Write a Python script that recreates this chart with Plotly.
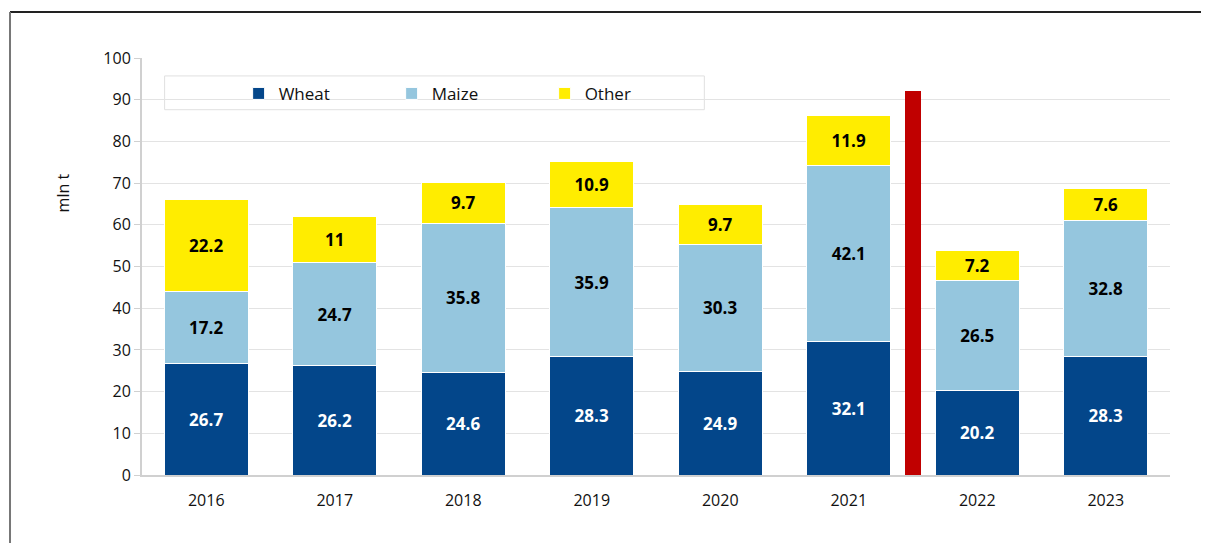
import plotly.graph_objects as go

years = ["2016", "2017", "2018", "2019", "2020", "2021", "2022", "2023"]
wheat = [26.7, 26.2, 24.6, 28.3, 24.9, 32.1, 20.2, 28.3]
maize = [17.2, 24.7, 35.8, 35.9, 30.3, 42.1, 26.5, 32.8]
other = [22.2, 11, 9.7, 10.9, 9.7, 11.9, 7.2, 7.6]
separator_pos = [5.5]
separator_val = [92]

xpos = list(range(len(years)))

def fmt(v):
    return f"{v:g}"

label_font = dict(size=17, family="Open Sans", weight="bold")

fig = go.Figure()
fig.add_trace(go.Bar(
    x=xpos, y=wheat, name="Wheat", width=0.65,
    marker=dict(color="#03468a", line=dict(color="#ffffff", width=1)),
    text=[fmt(v) for v in wheat], textposition="inside", insidetextanchor="middle",
    textfont=dict(color="white", **label_font),
))
fig.add_trace(go.Bar(
    x=xpos, y=maize, name="Maize", width=0.65,
    marker=dict(color="#95c6de", line=dict(color="#ffffff", width=1)),
    text=[fmt(v) for v in maize], textposition="inside", insidetextanchor="middle",
    textfont=dict(color="black", **label_font),
))
fig.add_trace(go.Bar(
    x=xpos, y=other, name="Other", width=0.65,
    marker=dict(color="#ffed00", line=dict(color="#ffffff", width=1)),
    text=[fmt(v) for v in other], textposition="inside", insidetextanchor="middle",
    textfont=dict(color="black", **label_font),
))
fig.add_trace(go.Bar(
    x=separator_pos, y=separator_val, width=0.12, showlegend=False,
    marker=dict(color="#c00000", line=dict(width=0)), hoverinfo="skip",
))

fig.update_layout(
    barmode="stack",
    width=1201, height=535,
    margin=dict(l=134, r=39, t=50, b=68),
    paper_bgcolor="white", plot_bgcolor="white",
    font=dict(family="Open Sans", size=16, color="#111111"),
    showlegend=True,
    legend=dict(
        orientation="h", x=0.094, y=0.914, xanchor="left", yanchor="middle",
        traceorder="normal",
        bgcolor="rgba(0,0,0,0)", borderwidth=0,
        entrywidth=108, entrywidthmode="pixels",
        font=dict(size=17, family="Open Sans", color="#111111"),
        itemclick=False, itemdoubleclick=False,
    ),
    xaxis=dict(
        tickmode="array", tickvals=xpos, ticktext=years,
        range=[-0.5, 7.5], showgrid=False,
        showline=True, linecolor="#d0d0d0", linewidth=2,
        ticks="", tickfont=dict(size=16), ticklabelstandoff=10,
    ),
    yaxis=dict(
        range=[0, 100], dtick=10, showgrid=True, gridcolor="#e3e3e3", gridwidth=1,
        showline=True, linecolor="#d0d0d0", linewidth=2,
        ticks="outside", ticklen=6, tickcolor="#d0d0d0", tickwidth=1,
        tickfont=dict(size=16), zeroline=False,
    ),
    annotations=[dict(
        text="mln t", textangle=-90, xref="paper", yref="paper",
        x=-0.09, y=0.728, showarrow=False, font=dict(size=16),
    )],
    shapes=[
        dict(type="rect", xref="paper", yref="paper",
             x0=0.022, x1=0.547, y0=0.876, y1=0.957,
             line=dict(color="#e0e0e0", width=1), fillcolor="white", layer="below"),
        dict(type="line", xref="paper", yref="paper",
             x0=-0.1284, x1=1.05, y0=1.1103, y1=1.1103,
             line=dict(color="#222222", width=2)),
        dict(type="line", xref="paper", yref="paper",
             x0=-0.1284, x1=-0.1284, y0=1.1103, y1=-0.2,
             line=dict(color="#777777", width=2)),
    ],
)

fig.write_html("out.html")
